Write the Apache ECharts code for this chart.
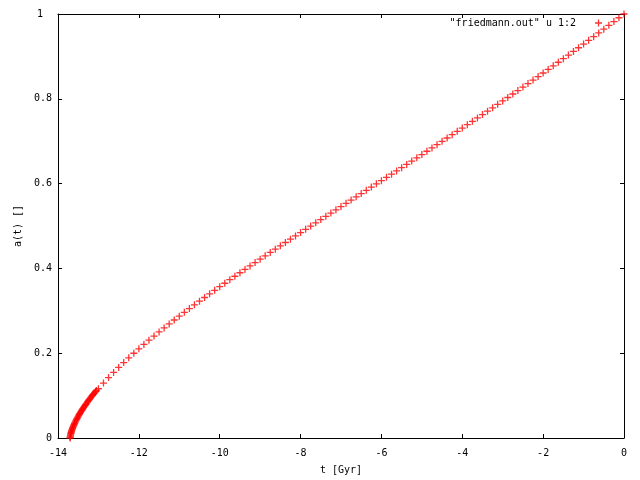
<!DOCTYPE html>
<html><head><meta charset="utf-8">
<script src="https://cdn.jsdelivr.net/npm/echarts@6/dist/echarts.min.js"></script>
<style>html,body{margin:0;padding:0;background:#fff}#c{width:640px;height:480px}</style>
</head><body><div id="c"></div>
<script>
// time before present [Gyr]
const tValues = [
  0, -0.125, -0.25, -0.375, -0.5, -0.625, -0.75, -0.875, -1, -1.125, -1.25, -1.375,
  -1.5, -1.625, -1.75, -1.875, -2, -2.125, -2.25, -2.375, -2.5, -2.625, -2.75, -2.875,
  -3, -3.125, -3.25, -3.375, -3.5, -3.625, -3.75, -3.875, -4, -4.125, -4.25, -4.375,
  -4.5, -4.625, -4.75, -4.875, -5, -5.125, -5.25, -5.375, -5.5, -5.625, -5.75, -5.875,
  -6, -6.125, -6.25, -6.375, -6.5, -6.625, -6.75, -6.875, -7, -7.125, -7.25, -7.375,
  -7.5, -7.625, -7.75, -7.875, -8, -8.125, -8.25, -8.375, -8.5, -8.625, -8.75, -8.875,
  -9, -9.125, -9.25, -9.375, -9.5, -9.625, -9.75, -9.875, -10, -10.125, -10.25, -10.375,
  -10.5, -10.625, -10.75, -10.875, -11, -11.125, -11.25, -11.375, -11.5, -11.625, -11.75, -11.875,
  -12, -12.125, -12.25, -12.375, -12.5, -12.625, -12.75, -12.875, -13,
  -13.05, -13.0694, -13.0886, -13.1076, -13.1264, -13.145, -13.1634, -13.1816, -13.1996, -13.2174,
  -13.2349, -13.2522, -13.2693, -13.2862, -13.3029, -13.3193, -13.3355, -13.3515, -13.3672, -13.3827,
  -13.3979, -13.4129, -13.4276, -13.4421, -13.4563, -13.4702, -13.4838, -13.4972, -13.5103, -13.5231,
  -13.5356, -13.5477, -13.5596, -13.5711, -13.5823, -13.5932, -13.6037, -13.6138, -13.6236, -13.6329,
  -13.6419, -13.6504, -13.6584, -13.666, -13.673, -13.6794, -13.6853, -13.6904, -13.6948, -13.6982, -13.7
];
// scale factor a(t)
const aValues = [
  1.0000, 0.9911, 0.9821, 0.9732, 0.9642, 0.9554, 0.9466, 0.9378, 0.9290, 0.9204, 0.9118, 0.9032,
  0.8946, 0.8862, 0.8777, 0.8693, 0.8608, 0.8525, 0.8442, 0.8359, 0.8276, 0.8194, 0.8113, 0.8031,
  0.7949, 0.7869, 0.7788, 0.7708, 0.7627, 0.7548, 0.7469, 0.7389, 0.7310, 0.7232, 0.7153, 0.7075,
  0.6996, 0.6918, 0.6841, 0.6763, 0.6685, 0.6608, 0.6531, 0.6453, 0.6376, 0.6300, 0.6223, 0.6147,
  0.6070, 0.5994, 0.5917, 0.5841, 0.5764, 0.5688, 0.5611, 0.5535, 0.5458, 0.5382, 0.5305, 0.5229,
  0.5152, 0.5075, 0.4998, 0.4921, 0.4844, 0.4766, 0.4689, 0.4611, 0.4533, 0.4454, 0.4376, 0.4297,
  0.4218, 0.4138, 0.4058, 0.3977, 0.3897, 0.3815, 0.3733, 0.3650, 0.3568, 0.3484, 0.3400, 0.3314,
  0.3228, 0.3141, 0.3053, 0.2963, 0.2874, 0.2783, 0.2690, 0.2597, 0.2501, 0.2405, 0.2307, 0.2207,
  0.2103, 0.1999, 0.1890, 0.1779, 0.1665, 0.1546, 0.1424, 0.1296, 0.1161,
  0.1120, 0.1098, 0.1075, 0.1053, 0.1030, 0.1008, 0.0986, 0.0963, 0.0941, 0.0918,
  0.0896, 0.0874, 0.0851, 0.0829, 0.0806, 0.0784, 0.0762, 0.0739, 0.0717, 0.0694,
  0.0672, 0.0650, 0.0627, 0.0605, 0.0582, 0.0560, 0.0538, 0.0515, 0.0493, 0.0470,
  0.0448, 0.0426, 0.0403, 0.0381, 0.0358, 0.0336, 0.0314, 0.0291, 0.0269, 0.0246,
  0.0224, 0.0202, 0.0179, 0.0157, 0.0134, 0.0112, 0.0090, 0.0067, 0.0045, 0.0022, 0
];
const seriesName = '"friedmann.out" u 1:2';
const xTitle = 't [Gyr]';
const yTitle = 'a(t) []';

const FONT = '"DejaVu Sans Mono", "Liberation Mono", monospace';
const PLUS = 'path://M0,2.85L7,2.85L7,4.15L0,4.15ZM2.85,0L4.15,0L4.15,7L2.85,7Z';
const chart = echarts.init(document.getElementById('c'), null, {renderer: 'canvas'});

function axisBase(extra) {
  return Object.assign({
    type: 'value',
    axisLine: {show: true, onZero: false, lineStyle: {color: '#000', width: 1}},
    axisTick: {show: true, inside: true, length: 4, lineStyle: {color: '#000', width: 1}},
    splitLine: {show: false}
  }, extra);
}

const labelStyle = {fontFamily: FONT, fontSize: 10, color: '#000'};

chart.setOption({
  backgroundColor: '#fff',
  animation: false,
  grid: {left: 58, right: 16, top: 14, bottom: 42, containLabel: false},
  legend: {
    data: [seriesName], right: 38, top: 18, padding: 0, align: 'right',
    icon: PLUS, itemWidth: 7, itemHeight: 7,
    textStyle: {fontFamily: FONT, fontSize: 10, color: '#000', padding: [0, 14, 0, 0]}
  },
  xAxis: [
    axisBase({min: -14, max: 0, interval: 2, position: 'bottom',
      name: xTitle, nameLocation: 'middle', nameGap: 27,
      nameTextStyle: labelStyle,
      axisLabel: Object.assign({margin: 10, showMinLabel: true, showMaxLabel: true}, labelStyle)}),
    axisBase({min: -14, max: 0, interval: 2, position: 'top', axisLabel: {show: false}})
  ],
  yAxis: [
    axisBase({min: 0, max: 1, interval: 0.2, position: 'left',
      name: yTitle, nameLocation: 'middle', nameGap: 35,
      nameTextStyle: labelStyle,
      axisLabel: Object.assign({
        margin: 6, showMinLabel: true, showMaxLabel: true,
        formatter: function (v) { return v === 1 ? '{s|1}' : String(+v.toFixed(1)); },
        rich: {s: {fontFamily: FONT, fontSize: 10, color: '#000', padding: [0, 9, 0, 0]}}
      }, labelStyle)}),
    axisBase({min: 0, max: 1, interval: 0.2, position: 'right', axisLabel: {show: false}})
  ],
  series: [{
    type: 'scatter', name: seriesName,
    data: tValues.map(function (t, i) { return [t, aValues[i]]; }),
    symbol: PLUS, symbolSize: 7, clip: false,
    itemStyle: {color: '#ff0000'}
  }]
});
</script></body></html>
